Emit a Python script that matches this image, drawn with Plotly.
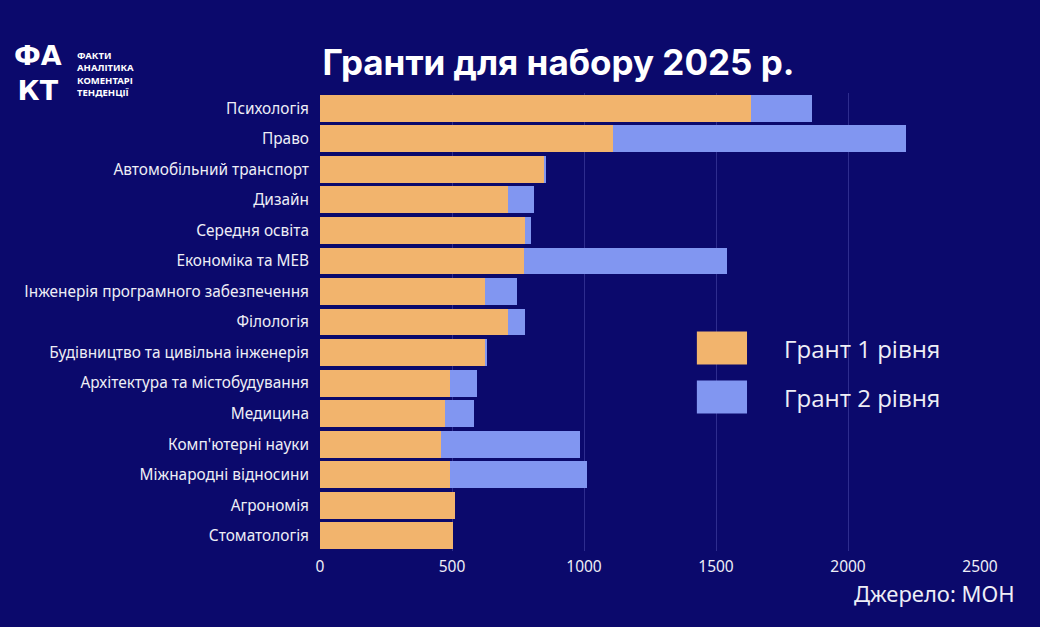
import plotly.graph_objects as go

categories = [
    "Психологія", "Право", "Автомобільний транспорт", "Дизайн", "Середня освіта",
    "Економіка та МЕВ", "Інженерія програмного забезпечення", "Філологія",
    "Будівництво та цивільна інженерія", "Архітектура та містобудування", "Медицина",
    "Комп'ютерні науки", "Міжнародні відносини", "Агрономія", "Стоматологія",
]
grant1 = [1632, 1109, 850, 711, 777, 772, 624, 712, 625, 493, 475, 457, 493, 513, 505]
grant2 = [230, 1109, 5, 100, 24, 770, 121, 63, 5, 101, 110, 526, 518, 0, 0]
series_names = ["Грант 1 рівня", "Грант 2 рівня"]
x_ticks = [0, 500, 1000, 1500, 2000, 2500]

BG = "#0b096c"
ORANGE = "#f2b46d"
BLUE = "#8196f1"
TXT = "#eeeef6"

fig = go.Figure()
fig.add_trace(go.Bar(y=categories, x=grant1, orientation="h", name=series_names[0],
                     marker=dict(color=ORANGE, line=dict(width=0)), showlegend=False))
fig.add_trace(go.Bar(y=categories, x=grant2, orientation="h", name=series_names[1],
                     marker=dict(color=BLUE, line=dict(width=0)), showlegend=False))

fig.update_layout(
    barmode="stack", bargap=0.12,
    width=1040, height=627,
    paper_bgcolor=BG, plot_bgcolor=BG,
    margin=dict(l=320, r=60, t=93, b=76),
    font=dict(family="Noto Sans", color=TXT, size=14),
    xaxis=dict(range=[0, 2500], tickvals=x_ticks, showgrid=True,
               gridcolor="rgba(140,140,230,0.28)", gridwidth=1, zeroline=False,
               tickfont=dict(size=15.5, color=TXT), ticks="", showline=False,
               ticklabelstandoff=4),
    yaxis=dict(autorange="reversed", tickfont=dict(size=15.4, color=TXT),
               ticks="", showgrid=False, ticklabelstandoff=10),
    title=dict(text="<b>Гранти для набору 2025 р.</b>", x=0.537, xanchor="center",
               y=0.9, yanchor="middle",
               font=dict(family="Inter", size=35, color="#ffffff")),
)

# custom legend
legend_items = [(series_names[0], ORANGE, 0.443), (series_names[1], BLUE, 0.336)]
for name, col, yc in legend_items:
    fig.add_shape(type="rect", xref="paper", yref="paper",
                  x0=0.571, x1=0.647, y0=yc - 0.036, y1=yc + 0.036,
                  fillcolor=col, line=dict(width=0))
    fig.add_annotation(text=name, xref="paper", yref="paper", x=0.7, y=yc,
                       xanchor="left", yanchor="middle", showarrow=False,
                       font=dict(family="Open Sans", size=24, color=TXT))

# source
fig.add_annotation(text="Джерело: МОН", xref="paper", yref="paper", x=1.056, y=-0.092,
                   xanchor="right", yanchor="middle", showarrow=False,
                   font=dict(family="Noto Sans", size=22, color=TXT))

# logo
fig.add_annotation(text="<b>ФА<br>КТ</b>", xref="paper", yref="paper",
                   x=-0.427, y=1.044, xanchor="center", yanchor="middle", showarrow=False,
                   font=dict(family="DejaVu Sans", size=27, color="#ffffff"),
                   align="center")
fig.add_annotation(text="<b>ФАКТИ<br>АНАЛІТИКА<br>КОМЕНТАРІ<br>ТЕНДЕНЦІЇ</b>",
                   xref="paper", yref="paper", x=-0.371, y=1.041,
                   xanchor="left", yanchor="middle", showarrow=False, align="left",
                   font=dict(family="Noto Sans", size=9.5, color="#ffffff"))

fig.write_html("out.html")
